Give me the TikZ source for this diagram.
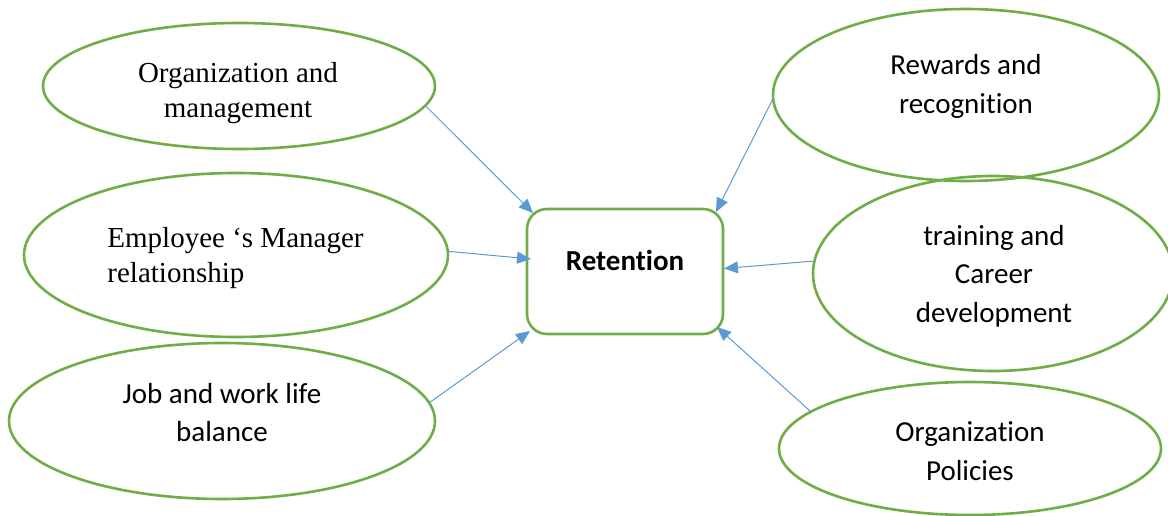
\documentclass[tikz,border=0pt]{standalone}
\usepackage{fontspec}
\setmainfont{Liberation Serif}
\newfontfamily\calibri[Ligatures=NoCommon]{Carlito}
\usetikzlibrary{shapes.geometric,arrows.meta}
\definecolor{leaf}{HTML}{70AD47}
\definecolor{sky}{HTML}{5B9BD5}
\begin{document}
\begin{tikzpicture}[x=1pt,y=-1pt,
  oval/.style={ellipse, draw=leaf, line width=2.6pt, inner sep=0pt, outer sep=0pt},
  serif/.style={inner sep=0pt, font=\fontsize{29}{35}\selectfont},
  sans/.style={inner sep=0pt, align=center, font=\calibri\fontsize{29}{38.5}\selectfont},
  link/.style={draw=sky, line width=1pt, -{Triangle[length=14pt,width=12pt]}},
  ]
  \fill[white] (0,0) rectangle (1168,516);
  \useasboundingbox (0,0) rectangle (1168,516);

  % central box
  \node[draw=leaf, line width=2.6pt, rounded corners=20pt, inner sep=0pt, outer sep=0pt,
        minimum width=196pt, minimum height=125pt] (ret) at (625,271.5) {};
  \node[inner sep=0pt, font=\calibri\bfseries\fontsize{29}{35}\selectfont] (t7) at (625,260.7) {Retention};

  % left factors
  \node[oval, minimum width=392pt, minimum height=126pt] (e1) at (239,86) {};
  \node[oval, minimum width=424pt, minimum height=164pt] (e2) at (236,255) {};
  \node[oval, minimum width=426pt, minimum height=156pt] (e3) at (222,421) {};

  % right factors
  \node[oval, minimum width=386pt, minimum height=172pt] (e4) at (966,95) {};
  \node[oval, minimum width=360pt, minimum height=195pt] (e5) at (993,273.5) {};
  \node[oval, minimum width=382pt, minimum height=133pt] (e6) at (970,448.5) {};

  % labels
  \node[serif, align=center] (t1) at (238,93) {Organization and\\management};
  \node[serif, align=left] (t2) at (235.5,258.3) {Employee ‘s Manager\\relationship};
  \node[sans] (t3) at (222,412.4) {Job and work life\\balance};
  \node[sans] (t4) at (966,86.4) {Rewards and\\recognition};
  \node[sans] (t5) at (994,275.9) {training and\\Career\\development};
  \node[sans] (t6) at (970,451) {Organization\\Policies};

  % connectors
  \draw[link] (e1.-6) -- ([shift={(6,4)}]ret.north west);
  \draw[link] (e2.1) -- ([shift={(4,-12.5)}]ret.west);
  \draw[link] (e3.5) -- ([shift={(3,-3)}]ret.south west);
  \draw[link] (e4.181) -- ([shift={(-7,3)}]ret.north east);
  \draw[link] (e5.176) -- ([shift={(1,-3)}]ret.east);
  \draw[link] (e6.167) -- ([shift={(-6,-7)}]ret.south east);
\end{tikzpicture}
\end{document}
